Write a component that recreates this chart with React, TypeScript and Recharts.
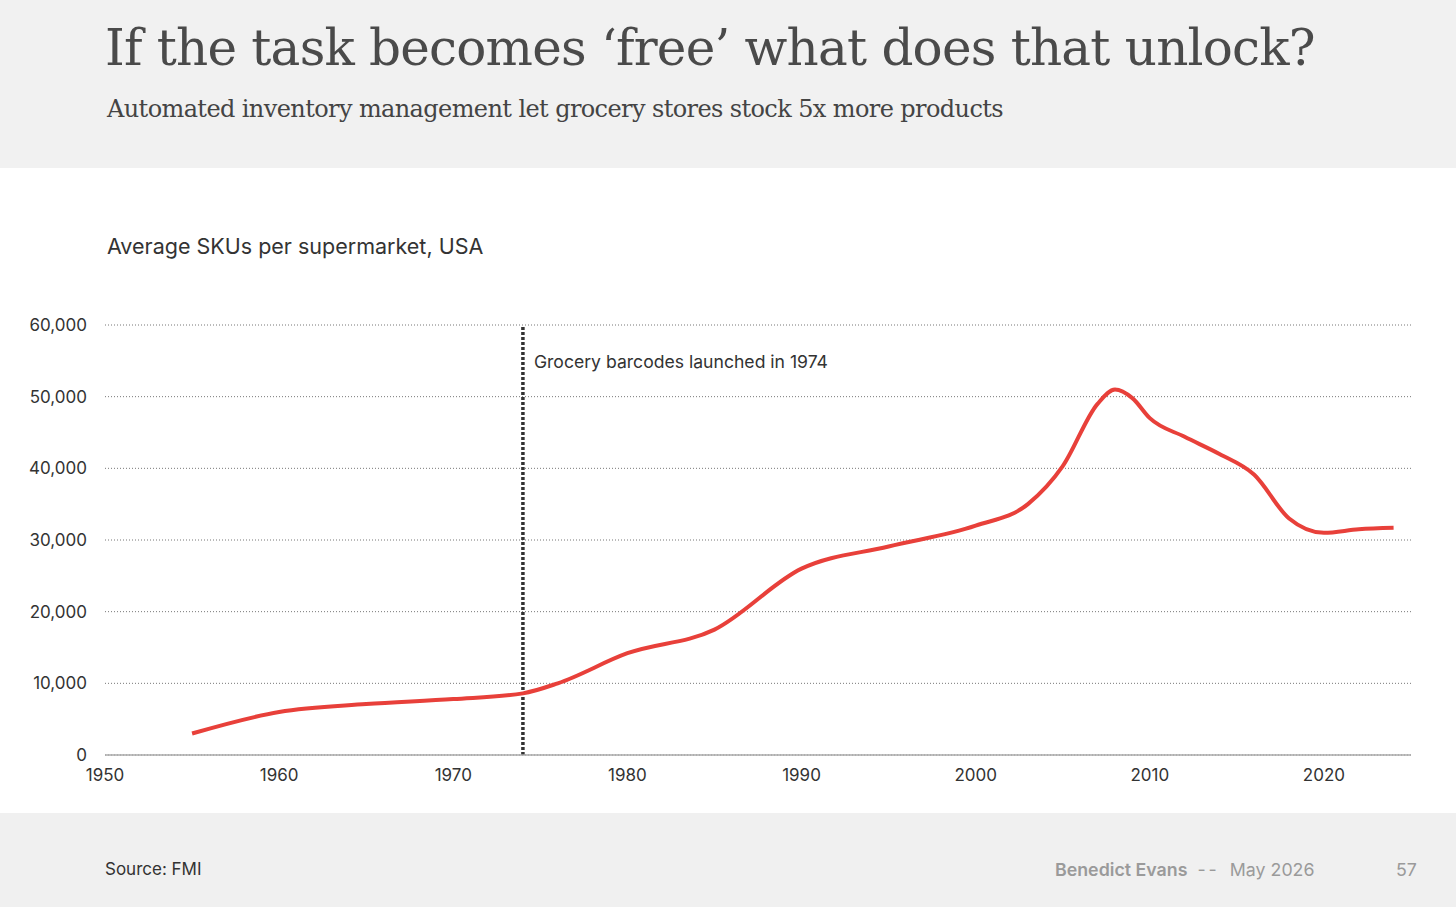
import React from 'react';
import { LineChart, Line, XAxis, YAxis, CartesianGrid, ReferenceLine } from 'recharts';

const years = [1955, 1960, 1965, 1970, 1974, 1976, 1980, 1985, 1990, 1995, 2000, 2003, 2005, 2007, 2008, 2009, 2010, 2012, 2014, 2016, 2018, 2020, 2022, 2024];
const skus = [3000, 6000, 7100, 7800, 8600, 10000, 14200, 17500, 26000, 29100, 32000, 35000, 40300, 49000, 51000, 49800, 47000, 44400, 42000, 39100, 33000, 31000, 31500, 31700];
const xTicks = [1950, 1960, 1970, 1980, 1990, 2000, 2010, 2020];
const yTicks = [0, 10000, 20000, 30000, 40000, 50000, 60000];
const barcodeYear = 1974;

const data = years.map((y, i) => ({ year: y, skus: skus[i] }));

const sans = 'Inter, "Noto Sans", sans-serif';
const serif = '"DejaVu Serif", serif';

const fmt = (v: number) => v.toLocaleString('en-US');

const BarcodeLabel = (props: any) => {
  const vb = props.viewBox || {};
  return (
    <text x={vb.x + 11} y={vb.y + 43} fill="#333" fontSize={17.6} fontFamily={sans}>
      Grocery barcodes launched in 1974
    </text>
  );
};

export default function App() {
  return (
    <div style={{ position: 'absolute', left: 0, top: 0, width: 1456, height: 907, background: '#fff', overflow: 'hidden' }}>
      <div style={{ position: 'absolute', left: 0, top: 0, width: 1456, height: 168, background: '#f1f1f1' }} />
      <div style={{ position: 'absolute', left: 0, top: 813, width: 1456, height: 94, background: '#f0f0f0' }} />
      <div style={{ position: 'absolute', left: 105, top: 18, fontFamily: serif, fontSize: 50, lineHeight: '60px', letterSpacing: '-0.8px', color: '#4a4a4a', whiteSpace: 'nowrap' }}>
        If the task becomes ‘free’ what does that unlock?
      </div>
      <div style={{ position: 'absolute', left: 107, top: 94, fontFamily: serif, fontSize: 24, lineHeight: '30px', letterSpacing: '-0.6px', color: '#444', whiteSpace: 'nowrap' }}>
        Automated inventory management let grocery stores stock 5x more products
      </div>
      <div style={{ position: 'absolute', left: 107, top: 233, fontFamily: sans, fontSize: 21.5, lineHeight: '26px', color: '#333', whiteSpace: 'nowrap' }}>
        Average SKUs per supermarket, USA
      </div>
      <div style={{ position: 'absolute', left: 105, top: 858, fontFamily: sans, fontSize: 17, lineHeight: '22px', color: '#333', whiteSpace: 'nowrap' }}>
        Source: FMI
      </div>
      <div style={{ position: 'absolute', left: 1055, top: 859, fontFamily: sans, fontSize: 17.8, lineHeight: '22px', color: '#9a9a9a', whiteSpace: 'nowrap' }}>
        <span style={{ fontWeight: 600 }}>Benedict Evans</span>
        <span style={{ margin: '0 10px 0 10px', letterSpacing: '3px' }}>--</span>
        <span>May 2026</span>
      </div>
      <div style={{ position: 'absolute', left: 1396, top: 859, fontFamily: sans, fontSize: 17.8, lineHeight: '22px', color: '#9a9a9a', whiteSpace: 'nowrap' }}>
        57
      </div>
      <div style={{ position: 'absolute', left: 0, top: 0 }}>
        <LineChart width={1456} height={907} data={data} margin={{ top: 325, right: 45, left: 35, bottom: 112 }}>
          <CartesianGrid vertical={false} stroke="#777" strokeDasharray="1 2" />
          <XAxis
            dataKey="year"
            type="number"
            domain={[1950, 2025]}
            ticks={xTicks}
            tickLine={false}
            axisLine={{ stroke: '#aaa', strokeWidth: 1.5 }}
            tickMargin={8}
            height={40}
            tick={{ fill: '#333', fontSize: 17, fontFamily: sans }}
            allowDataOverflow
          />
          <YAxis
            type="number"
            domain={[0, 60000]}
            ticks={yTicks}
            tickFormatter={fmt}
            axisLine={false}
            tickLine={false}
            tickMargin={12}
            width={70}
            tick={{ fill: '#333', fontSize: 17, fontFamily: sans }}
          />
          <ReferenceLine
            x={barcodeYear}
            stroke="#333"
            strokeWidth={3.5}
            strokeDasharray="3 2"
            label={<BarcodeLabel />}
          />
          <Line
            type="monotone"
            dataKey="skus"
            stroke="#e8403a"
            strokeWidth={4}
            dot={false}
            isAnimationActive={false}
          />
        </LineChart>
      </div>
    </div>
  );
}
